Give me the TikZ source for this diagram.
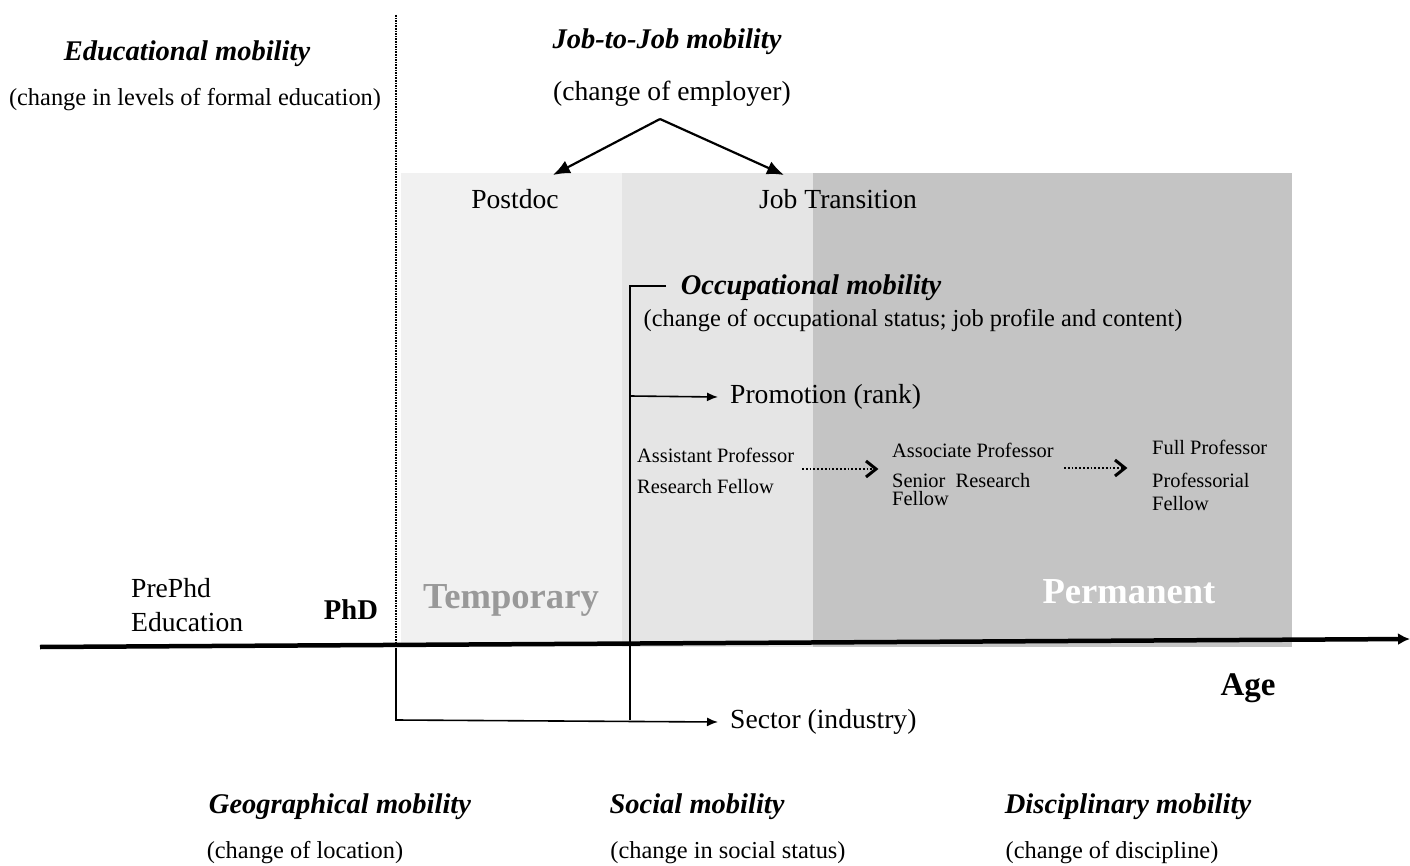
\documentclass[tikz,border=0pt]{standalone}
\usepackage{fontspec}
\setmainfont{Liberation Serif}
\usetikzlibrary{arrows.meta}
\definecolor{pdfill}{gray}{0.945}
\definecolor{jtfill}{gray}{0.9}
\definecolor{pmfill}{gray}{0.77}
\definecolor{tmptxt}{gray}{0.6}
\begin{document}
\begin{tikzpicture}[x=1pt,y=-1pt,
  txt/.style={inner sep=0pt, font=\fontsize{27.6}{30}\selectfont},
  desc/.style={inner sep=0pt, font=\fontsize{24.4}{28}\selectfont},
  ttl/.style={inner sep=0pt, font=\fontsize{28.5}{30}\selectfont\bfseries\itshape},
  sm/.style={inner sep=0pt, anchor=west, font=\fontsize{20.4}{22}\selectfont},
  big/.style={inner sep=0pt, font=\fontsize{36.6}{40}\selectfont\bfseries},
  conn/.style={line width=1.6pt},
  arr/.style={line width=1.6pt, -{Latex[length=11pt,width=9pt]}},
  toparr/.style={line width=2.2pt, -{Latex[length=17pt,width=14pt]}},
  dotline/.style={line width=1.8pt, dotted},
  chev/.style={line width=3pt, line join=miter}
]
\useasboundingbox (0,0) rectangle (1410,866);
% background bands
\fill[pdfill] (401,173) rectangle (622,647);
\fill[jtfill] (622,173) rectangle (813,647);
\fill[pmfill] (813,173) rectangle (1292,647);
% dotted divider
\coordinate (divT) at (396,15);
\coordinate (divB) at (396,645);
\draw[line width=1.6pt, densely dotted] (divT) -- (divB);
% axis
\coordinate (axL) at (40,647);
\coordinate (axR) at (1410,639);
\draw[line width=4.5pt, -{Latex[length=12pt,width=12pt]}] (axL) -- (axR);
% texts
\node[ttl] (edu) at (187,54) {Educational mobility};
\node[desc] (edud) at (195,100) {(change in levels of formal education)};
\node[ttl] (jtj) at (667,42) {Job-to-Job mobility};
\node[txt] (jtjd) at (672,94) {(change of employer)};
\node[txt] (pd) at (515,199) {Postdoc};
\node[txt] (jt) at (838,199) {Job Transition};
\node[ttl] (occ) at (811,288) {Occupational mobility};
\node[desc] (occd) at (913,321) {(change of occupational status; job profile and content)};
\node[txt, anchor=west] (prom) at (730,397) {Promotion (rank)};
\node[sm] (ap) at (637,455) {Assistant Professor};
\node[sm] (rf) at (637,487) {Research Fellow};
\node[sm] (asp) at (892,450) {Associate Professor};
\node[sm, align=left, anchor=north west] (srf) at (892,473) {Senior\ \ Research\\[-4pt]Fellow};
\node[sm] (fp) at (1152,447) {Full Professor};
\node[sm] (pf) at (1152,480) {Professorial};
\node[sm] (pff) at (1152,504) {Fellow};
\node[txt, anchor=west] (pre1) at (131,588) {PrePhd};
\node[txt, anchor=west] (pre2) at (131,622) {Education};
\node[inner sep=0pt, font=\fontsize{28.6}{30}\selectfont\bfseries] (phd) at (351,610) {PhD};
\node[big, text=tmptxt] (tmp) at (511,600) {Temporary};
\node[big, text=white] (perm) at (1129,592) {Permanent};
\node[inner sep=0pt, font=\fontsize{33}{34}\selectfont\bfseries] (age) at (1248,688) {Age};
\node[txt, anchor=west] (sec) at (730,722) {Sector (industry)};
\node[ttl] (geo) at (340,807) {Geographical mobility};
\node[desc] (geod) at (305,853) {(change of location)};
\node[ttl] (soc) at (697,807) {Social mobility};
\node[desc] (socd) at (728,853) {(change in social status)};
\node[ttl] (dis) at (1128,807) {Disciplinary mobility};
\node[desc] (disd) at (1112,853) {(change of discipline)};
% job-to-job arrows
\coordinate (apex) at (660,119);
\coordinate (pdtop) at (553,175);
\coordinate (jttop) at (784,175);
\draw[toparr] (apex) -- (pdtop);
\draw[toparr] (apex) -- (jttop);
% occupational connectors
\coordinate (occT) at (630,286);
\coordinate (occH) at (666,286);
\coordinate (occB) at (630,720);
\coordinate (promS) at (630,396);
\coordinate (phdB) at (396,648);
\coordinate (phdC) at (396,720);
\draw[conn] (occH) -- (occT) -- (occB);
\draw[arr] (promS) -- (prom.west -| 718,396);
\draw[arr] (phdB) -- (phdC) -- (sec.west -| 718,720);
% promotion steps
\coordinate (a1) at (802,469);
\coordinate (a2) at (876,469);
\coordinate (b1) at (1064,468);
\coordinate (b2) at (1125,468);
\draw[dotline] (a1) -- (a2);
\draw[chev] (a2) ++(-10,-8) -- (a2) -- ++(-10,8);
\draw[dotline] (b1) -- (b2);
\draw[chev] (b2) ++(-10,-8) -- (b2) -- ++(-10,8);
\end{tikzpicture}
\end{document}
